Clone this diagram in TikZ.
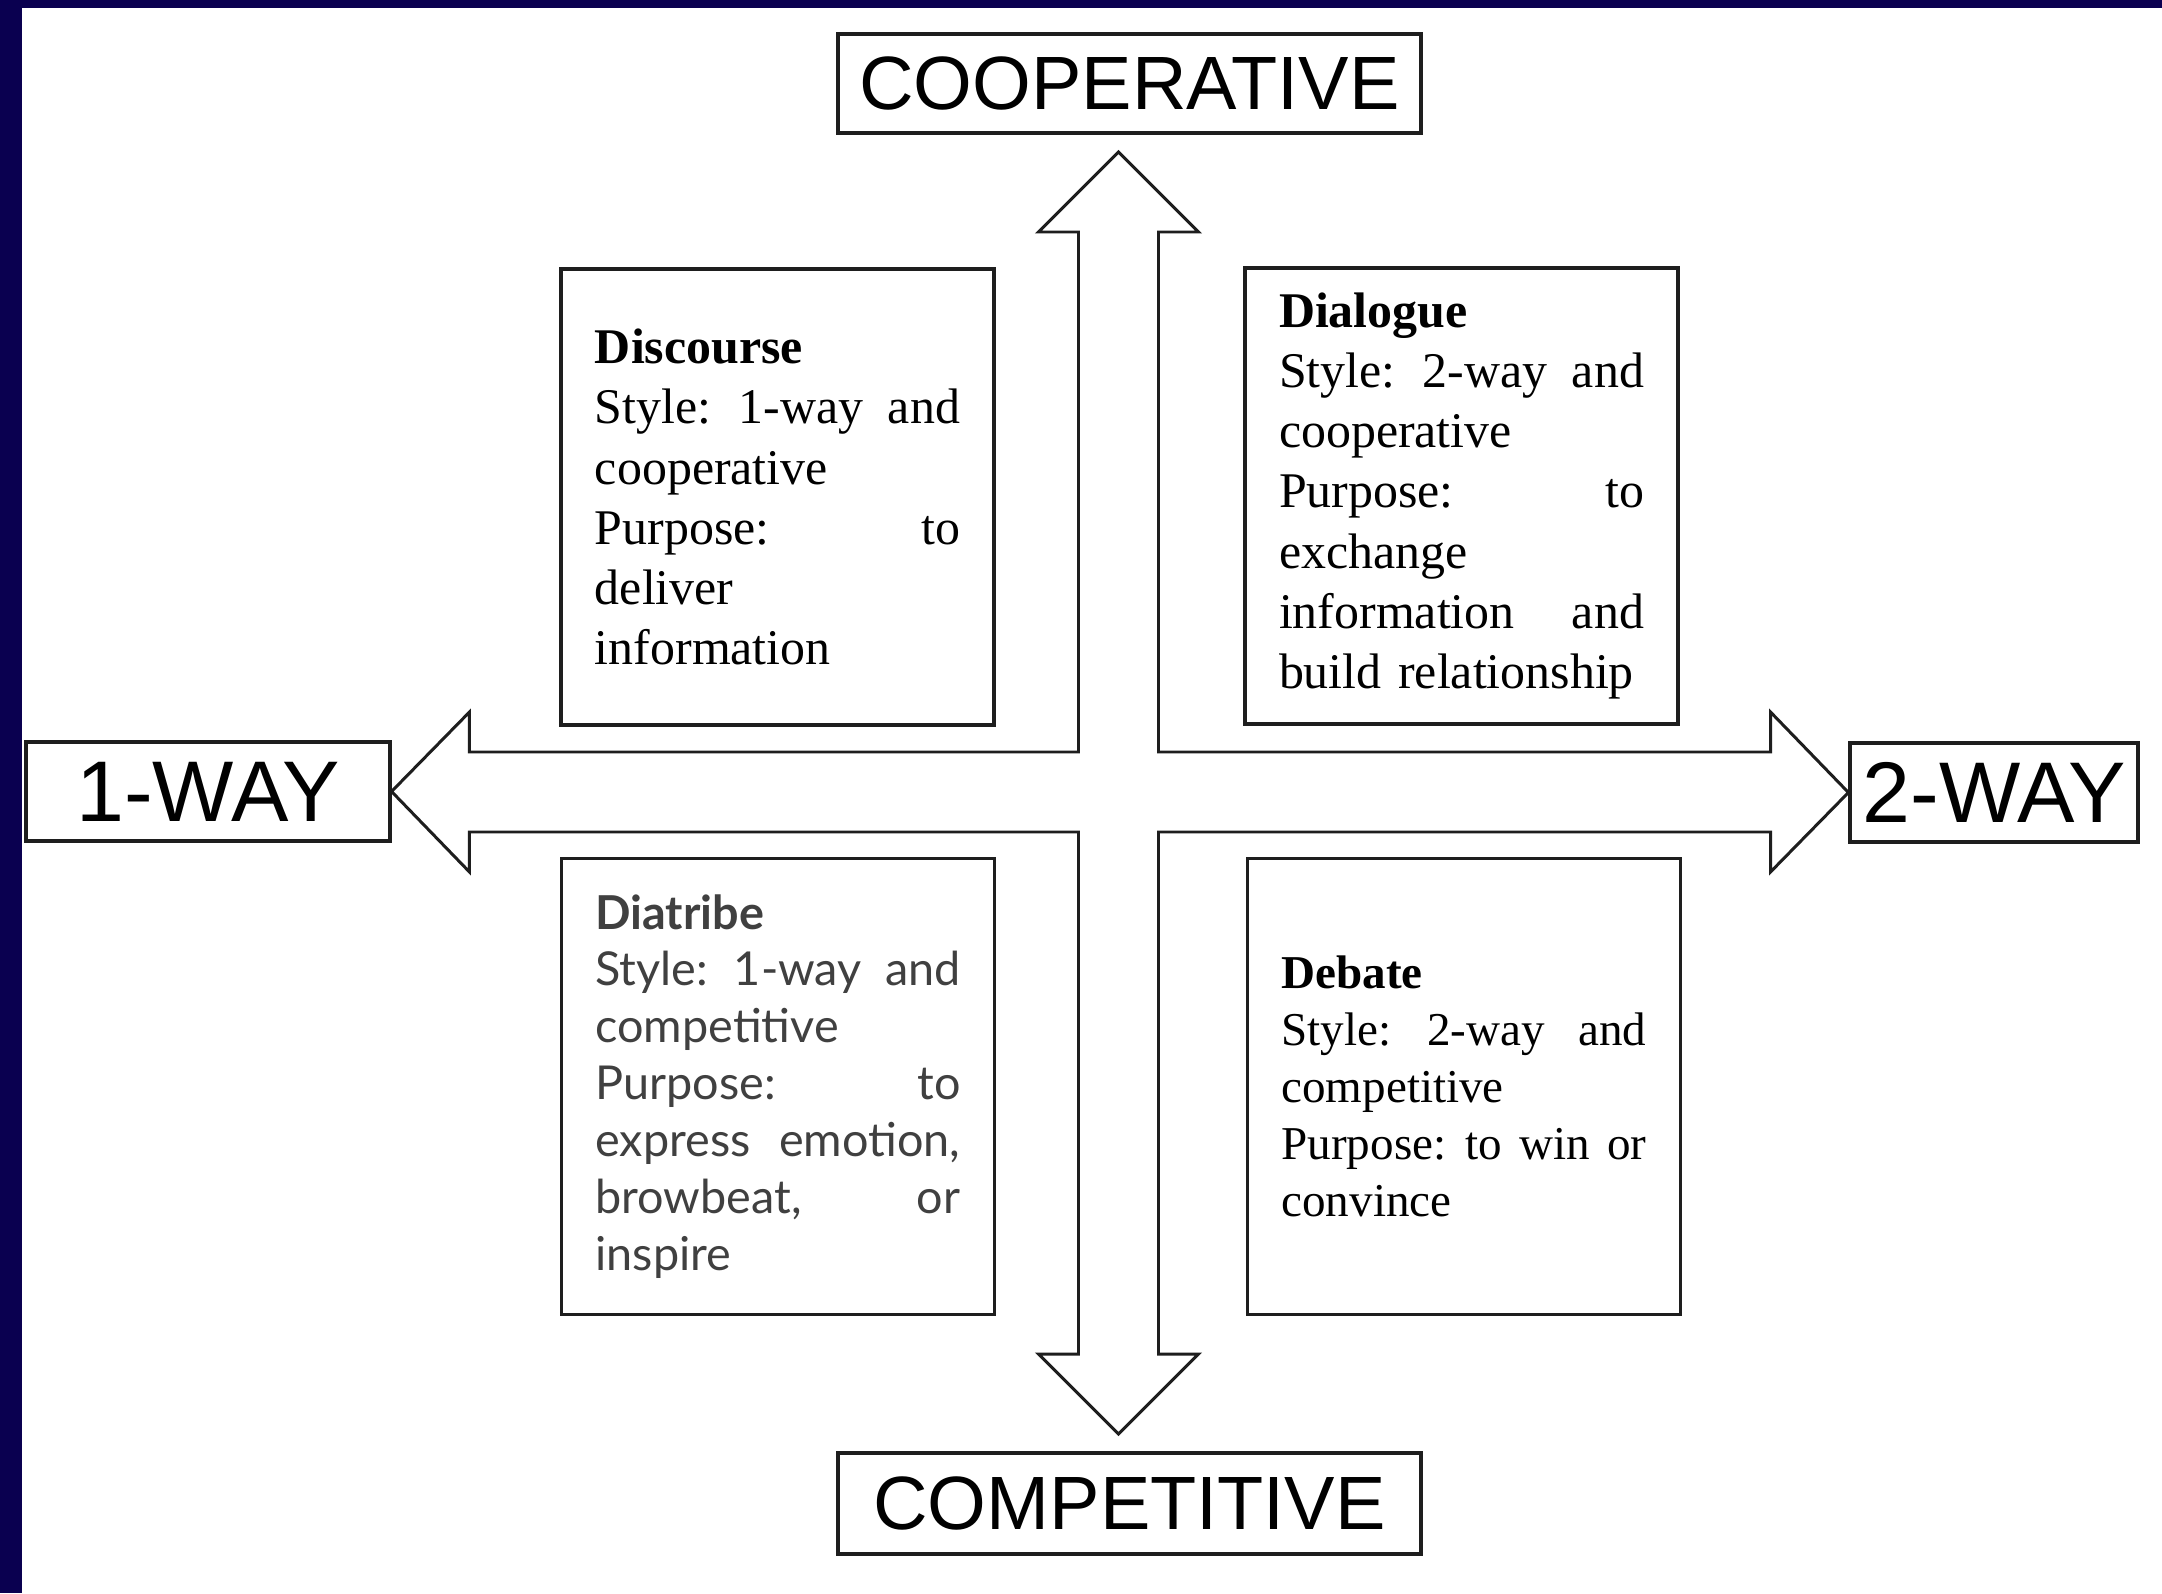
\documentclass[tikz,border=0pt]{standalone}
\usepackage{fontspec}
\setmainfont{Liberation Serif}
\setsansfont{Liberation Sans}
\newfontfamily\diafont{Lato}
\usetikzlibrary{positioning}
\definecolor{frame}{RGB}{10,0,80}
\definecolor{ink}{RGB}{30,30,30}
\newlength\qwidth
\setlength\qwidth{3.65cm}
% one justified line of a quadrant text
\newcommand{\fullline}[1]{\leavevmode\hbox to \qwidth{\spaceskip=.25em plus 1fil\xspaceskip=.3em plus 1fil #1}}

\tikzset{
  pole/.style={draw=ink, line width=0.9pt, inner sep=0pt, font=\sffamily\fontsize{21.5}{24}\selectfont},
  quad/.style={draw=ink, line width=0.9pt, text width=\qwidth, inner xsep=0.34cm, inner ysep=0pt,
    minimum height=4.56cm, align=left, font=\fontsize{14.2}{17.1}\selectfont},
  crossline/.style={draw=ink, line width=0.85pt, line join=miter}
}

\begin{document}
\begin{tikzpicture}
  % page and dark frame
  \useasboundingbox (-11.185,-8.01) rectangle (10.435,7.92);
  \fill[white] (-11.185,-8.01) rectangle (10.435,7.92);
  \fill[frame] (-11.185,-8.01) rectangle (-10.965,7.92);
  \fill[frame] (-11.185,7.84) rectangle (10.435,7.92);

  % the four poles
  \node[pole, minimum width=5.83cm, minimum height=0.99cm] (coop) at (0.11,7.085) {COOPERATIVE};
  \node[pole, minimum width=5.83cm, minimum height=1.01cm] (comp) at (0.11,-7.115) {COMPETITIVE};
  \node[pole, minimum width=3.64cm, minimum height=0.99cm,
        font=\sffamily\fontsize{24.5}{27}\selectfont] (oneway) at (-9.105,0.005) {1-WAY};
  \node[pole, minimum width=2.88cm, minimum height=0.99cm,
        font=\sffamily\fontsize{24.5}{27}\selectfont] (twoway) at (8.755,-0.005) {2-WAY};

  % cross of double arrows
  \coordinate (uptip) at (0,6.40);
  \coordinate (downtip) at (0,-6.42);
  \draw[crossline] (uptip) -- (0.8,5.6) -- (0.4,5.6) -- (0.4,0.4) -- (6.52,0.4) -- (6.52,0.8)
    -- (twoway.west) -- (6.52,-0.8) -- (6.52,-0.4) -- (0.4,-0.4) -- (0.4,-5.62) -- (0.8,-5.62)
    -- (downtip) -- (-0.8,-5.62) -- (-0.4,-5.62) -- (-0.4,-0.4) -- (-6.49,-0.4) -- (-6.49,-0.8)
    -- (oneway.east) -- (-6.49,0.8) -- (-6.49,0.4) -- (-0.4,0.4) -- (-0.4,5.6) -- (-0.8,5.6) -- cycle;

  % quadrants
  \node[quad] (discourse) at (-3.41,2.95) {\textbf{Discourse}\\
    \fullline{Style: 1-way and}\\
    cooperative\\
    \fullline{Purpose: to}\\
    deliver\\
    information};
  \node[quad] (dialogue) at (3.43,2.96) {\textbf{Dialogue}\\
    \fullline{Style: 2-way and}\\
    cooperative\\
    \fullline{Purpose: to}\\
    exchange\\
    \fullline{information and}\\
    build relationship};
  \node[quad, text=ink!85, font=\diafont\fontsize{13.3}{16.2}\selectfont] (diatribe) at (-3.405,-2.945) {\textbf{Diatribe}\\
    \fullline{Style: 1-way and}\\
    competitive\\
    \fullline{Purpose: to}\\
    \fullline{express emotion,}\\
    \fullline{browbeat, or}\\
    inspire};
  \node[quad, font=\fontsize{13.4}{16.2}\selectfont] (debate) at (3.455,-2.945) {\textbf{Debate}\\
    \fullline{Style: 2-way and}\\
    competitive\\
    \fullline{Purpose: to win or}\\
    convince};
\end{tikzpicture}
\end{document}
